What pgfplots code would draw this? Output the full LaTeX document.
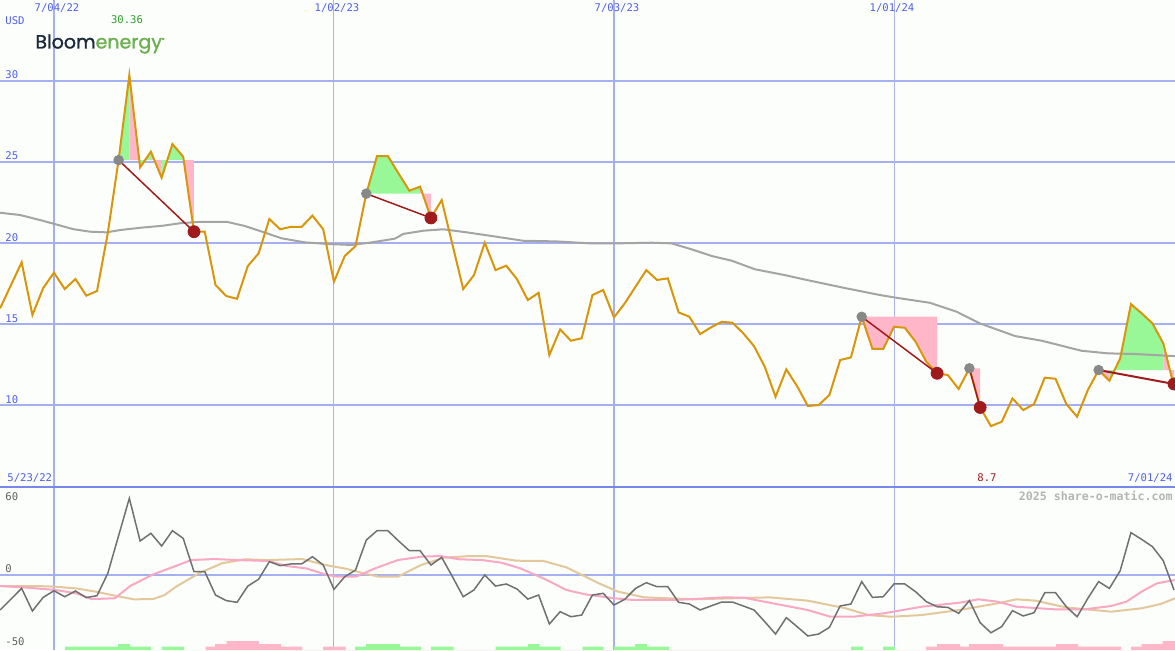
\documentclass[border=0pt]{standalone}
\usepackage{pgfplots}
\pgfplotsset{compat=1.18}
\usepackage{fontspec}
\setmainfont{DejaVu Sans Mono}
\newfontfamily\logofont{Poppins}[FakeBold=1.2]
\definecolor{bg}{HTML}{FCFEFC}
\definecolor{gridb}{HTML}{A4B0F0}
\definecolor{gridt}{HTML}{AAB2E8}
\definecolor{sepb}{HTML}{7888E8}
\definecolor{lbl}{HTML}{5060E8}
\definecolor{pricec}{HTML}{D8960A}
\definecolor{mac}{HTML}{A4A4A4}
\definecolor{fgreen}{HTML}{98F898}
\definecolor{fpink}{HTML}{FFB6C8}
\definecolor{trend}{HTML}{A01C1C}
\definecolor{gdot}{HTML}{888888}
\definecolor{osc}{HTML}{707070}
\definecolor{pinkl}{HTML}{F8A8C4}
\definecolor{tanl}{HTML}{E2C89A}
\definecolor{logonavy}{HTML}{1B2838}
\definecolor{logogreen}{HTML}{6CB050}
\definecolor{maxg}{HTML}{30A030}
\definecolor{wm}{HTML}{B4B4B4}
\definecolor{lbldark}{HTML}{606060}
\newcommand\tickfont{\fontsize{5.3pt}{6pt}\selectfont}
\pgfplotsset{
  base/.style={scale only axis, width=587.5pt, axis line style={draw=none},
    major tick length=0pt, tick style={draw=none}, xticklabels={}, yticklabels={},
    extra x tick labels={}, clip=true, grid=major,
    major grid style={gridb, line width=1pt},
    extra x tick style={xmajorgrids=true, major grid style={gridt, line width=0.5pt}}},
}
\begin{document}
\begin{tikzpicture}
\fill[bg] (0pt,0pt) rectangle (587.5pt,-325pt);
\useasboundingbox (0pt,0pt) rectangle (587.5pt,-325pt);
% ---------------- price panel
\begin{axis}[base, at={(0pt,0pt)}, anchor=north west, height=243.75pt,
  xmin=-5.01, xmax=104.09, ymin=4.91, ymax=35.0,
  xtick={0,52}, extra x ticks={26,78}, ytick={10,15,20,25,30}]
% fills
\addplot[fill=fgreen, draw=none, forget plot] coordinates {(6,25.12) (7,30.36) (7,25.12)};
\addplot[fill=fpink, draw=none, forget plot] coordinates {(7,25.12) (7,30.36) (8,24.67) (8,25.12)};
\addplot[fill=fgreen, draw=none, forget plot] coordinates {(8,25.12) (8,24.67) (9,25.64) (9,25.12)};
\addplot[fill=fpink, draw=none, forget plot] coordinates {(9,25.12) (9,25.64) (10,24.03) (10,25.12)};
\addplot[fill=fgreen, draw=none, forget plot] coordinates {(10,25.12) (10,24.03) (11,26.11) (12,25.33) (12,25.12)};
\addplot[fill=fpink, draw=none, forget plot] coordinates {(12,25.12) (12,25.33) (13,20.70) (13,25.12)};
\addplot[fill=fgreen, draw=none, forget plot] coordinates {(29,23.05) (30,25.37) (31,25.37) (32,24.29) (33,23.23) (34,23.48) (34,23.05)};
\addplot[fill=fpink, draw=none, forget plot] coordinates {(34,23.05) (34,23.48) (35,21.55) (35,23.05)};
\addplot[fill=fpink, draw=none, forget plot] coordinates {(75,15.45) (76,13.46) (77,13.46) (78,14.83) (79,14.77) (80,13.91) (81,12.67) (82,11.96) (82,15.45)};
\addplot[fill=fpink, draw=none, forget plot] coordinates {(85,12.27) (86,9.85) (86,12.27)};
\addplot[fill=fpink, draw=none, forget plot] coordinates {(97,12.16) (98,11.5) (98,12.16)};
\addplot[fill=fgreen, draw=none, forget plot] coordinates {(98,12.16) (98,11.5) (99,12.88) (100,16.23) (101,15.66) (102,15.04) (103,13.81) (103,12.16)};
\addplot[fill=fpink, draw=none, forget plot] coordinates {(103,12.16) (103,13.81) (104,11.13) (104,12.16)};
% moving average
\addplot[mac, line width=1pt] coordinates {
(-5.01,21.87) (-3.16,21.73) (-1.30,21.42) (0.09,21.17) (1.76,20.86) (3.34,20.70) (4.89,20.66)
(6.13,20.80) (7.99,20.94) (10.12,21.07) (11.70,21.22) (13.56,21.31) (16.04,21.31) (17.73,21.05)
(19.59,20.64) (21.14,20.29) (23.31,20.04) (25.47,19.94) (27.64,19.88) (29.50,20.04) (31.66,20.27)
(32.43,20.56) (34.29,20.76) (36.15,20.85) (38.32,20.66) (40.48,20.45) (43.58,20.14) (46.68,20.10)
(49.77,19.98) (52.37,19.98) (55.50,20.02) (57.35,19.98) (59.21,19.61) (61.07,19.20) (62.93,18.91)
(65.09,18.38) (67.87,18.02) (69.89,17.72) (73.60,17.20) (76.69,16.79) (78.24,16.62) (81.34,16.31)
(83.82,15.76) (85.98,15.04) (89.23,14.26) (91.71,13.97) (95.42,13.35) (97.89,13.19) (100.37,13.15) (104.08,13.02)};
% price
\addplot[pricec, line width=1pt] coordinates {
(-5,15.97) (-3,18.81) (-2,15.56) (-1,17.22) (0,18.17) (1,17.16) (2,17.78) (3,16.75) (4,17.04)
(5,20.62) (6,25.12) (7,30.36) (8,24.67) (9,25.64) (10,24.03) (11,26.11) (12,25.33) (13,20.70)
(14,20.70) (15,17.41) (16,16.73) (17,16.56) (18,18.58) (19,19.36) (20,21.48) (21,20.85) (22,21.0)
(23,21.0) (24,21.69) (25,20.85) (26,17.61) (27,19.2) (28,19.81) (29,23.05) (30,25.37) (31,25.37)
(32,24.29) (33,23.23) (34,23.48) (35,21.55) (36,22.65) (38,17.16) (39,18.02) (40,20.02) (41,18.33)
(42,18.60) (43,17.76) (44,16.48) (45,16.93) (46,13.09) (47,14.67) (48,13.97) (49,14.12) (50,16.79)
(51,17.10) (52,15.41) (53,16.28) (55,18.33) (56,17.72) (57,17.82) (58,15.72) (59,15.45) (60,14.38)
(61,14.79) (62,15.14) (63,15.08) (64,14.43) (65,13.64) (66,12.36) (67,10.51) (68,12.2) (69,11.17)
(70,9.94) (71,10.0) (72,10.62) (73,12.78) (74,12.94) (75,15.45) (76,13.46) (77,13.46) (78,14.83)
(79,14.77) (80,13.91) (81,12.67) (82,11.96) (83,11.85) (84,10.99) (85,12.27) (86,9.85) (87,8.7)
(88,8.97) (89,10.41) (90,9.69) (91,10.06) (92,11.69) (93,11.62) (94,10.06) (95,9.28) (96,10.93)
(97,12.16) (98,11.5) (99,12.88) (100,16.23) (101,15.66) (102,15.04) (103,13.81) (104,11.13)};
% trend lines
\addplot[trend, line width=0.75pt] coordinates {(6,25.12) (13,20.70)};
\addplot[trend, line width=0.75pt] coordinates {(29,23.05) (35,21.55)};
\addplot[trend, line width=0.75pt] coordinates {(75,15.45) (82,11.96)};
\addplot[trend, line width=0.75pt] coordinates {(85,12.27) (86,9.85)};
\addplot[trend, line width=1pt] coordinates {(97,12.16) (104,11.3)};
\addplot[only marks, mark=*, mark size=2.4pt, mark options={fill=gdot, draw=gdot}] coordinates {(6,25.12) (29,23.05) (75,15.45) (85,12.27) (97,12.16)};
\addplot[only marks, mark=*, mark size=3pt, mark options={fill=trend, draw=trend}] coordinates {(13,20.70) (35,21.55) (82,11.96) (86,9.85) (104,11.3)};
\end{axis}
% ---------------- oscillator panel
\begin{axis}[base, at={(0pt,-243.75pt)}, anchor=north west, height=81.25pt,
  xmin=-5.01, xmax=104.09, ymin=-57.69, ymax=67.31,
  xtick={0,52}, extra x ticks={26,78}, ytick={0}]
\addplot[tanl, line width=1pt] coordinates {
(-5.01,-8.5) (-1.46,-8.5) (0.14,-9.0) (2.09,-10.3) (3.87,-12.8) (5.65,-15.9) (7.42,-18.7) (9.20,-18.5)
(10.27,-15.4) (11.33,-9.0) (13.46,1.3) (15.60,9.0) (17.73,12.1) (19.86,11.5) (23.05,12.3) (25.19,7.7)
(26.96,5.1) (28.75,1.3) (30.17,-1.3) (31.94,-1.3) (34.08,7.7) (36.20,13.3) (38.69,14.6) (40.11,14.6)
(42.95,11.0) (45.44,10.8) (47.58,5.9) (49.35,-1.3) (50.60,-6.4) (52.37,-12.8) (54.83,-17.2)
(59.41,-18.7) (62.93,-17.9) (66.46,-17.2) (69.98,-19.7) (73.51,-25.6) (75.62,-30.8) (77.73,-32.1)
(80.56,-30.8) (84.08,-26.9) (87.60,-21.8) (89.36,-18.7) (91.12,-19.7) (93.95,-24.9) (98.17,-28.2)
(100.99,-25.6) (102.76,-22.3) (104.09,-17.9)};
\addplot[pinkl, line width=1pt] coordinates {
(-5.01,-8.5) (-2.88,-9.5) (0.14,-11.5) (2.09,-14.1) (3.51,-18.5) (5.65,-17.9) (7.07,-8.5) (9.20,0.5)
(10.97,5.9) (12.76,11.5) (14.88,12.3) (17.02,11.5) (19.86,10.8) (21.63,6.9) (23.42,5.1) (25.19,0.5)
(26.26,-1.3) (28.03,-1.3) (29.81,5.1) (31.94,11.5) (34.08,14.1) (35.85,14.6) (37.62,12.1) (39.76,11.5)
(41.53,9.5) (43.31,5.1) (45.44,-2.6) (47.58,-11.5) (49.35,-14.9) (52.02,-17.9) (53.77,-19.2)
(57.65,-19.2) (62.23,-17.2) (63.99,-17.4) (66.46,-21.3) (69.98,-26.9) (72.10,-32.1) (74.21,-32.1)
(77.03,-29.5) (80.56,-24.4) (84.08,-21.3) (85.84,-18.7) (87.60,-20.5) (89.36,-24.4) (92.89,-26.4)
(95.70,-26.4) (98.17,-23.8) (99.58,-20.5) (100.99,-12.8) (102.41,-6.4) (104.09,-3.8)};
\addplot[osc, line width=0.75pt] coordinates {
(-5,-26.9) (-3,-10.3) (-2,-27.7) (-1,-17.2) (0,-12.1) (1,-16.7) (2,-12.3) (3,-17.4) (4,-15.9) (5,1.3)
(7,59.0) (8,26.2) (9,32.1) (10,22.3) (11,34.1) (12,28.2) (13,2.6) (14,2.6) (15,-15.4) (16,-19.7)
(17,-21.0) (18,-8.5) (19,-3.3) (20,10.3) (21,7.2) (22,8.5) (23,8.5) (24,14.1) (25,7.7) (26,-11.0)
(27,-1.3) (28,3.8) (29,26.9) (30,34.1) (31,34.1) (32,26.2) (33,18.7) (34,18.7) (35,7.7) (36,13.6)
(37,-1.3) (38,-16.7) (39,-11.5) (40,0) (41,-8.5) (42,-6.9) (43,-10.8) (44,-18.5) (45,-15.4) (46,-37.7)
(47,-28.2) (48,-32.1) (49,-30.8) (50,-15.4) (51,-14.1) (52,-23.1) (53,-18.7) (54,-10.3) (55,-5.9)
(56,-9.0) (57,-9.0) (58,-21.0) (59,-22.3) (60,-26.9) (61,-23.8) (62,-20.8) (63,-20.8) (64,-23.8)
(65,-26.9) (66,-35.9) (67,-45.4) (68,-32.8) (69,-39.7) (70,-46.9) (71,-45.4) (72,-40.3) (73,-23.8)
(74,-22.3) (75,-5.1) (76,-17.2) (77,-16.7) (78,-6.9) (79,-6.9) (80,-12.8) (81,-20.5) (82,-24.4)
(83,-24.9) (84,-29.5) (85,-19.7) (86,-36.7) (87,-44.4) (88,-39.7) (89,-27.4) (90,-31.5) (91,-29.0)
(92,-13.6) (93,-13.6) (94,-24.4) (95,-32.1) (96,-17.9) (97,-5.1) (98,-10.3) (99,3.3) (100,32.6)
(101,27.4) (102,21.8) (103,11.0) (104,-11.5)};
\end{axis}
% ---------------- bars strip
\begin{axis}[scale only axis, hide axis, at={(0pt,-325pt)}, anchor=south west,
  width=587.5pt, height=5pt, xmin=0, xmax=1175, ymin=0, ymax=10, clip=true]
\addplot[ybar interval, fill=fgreen, draw=none] coordinates {
(65,3.3) (118,6) (130,3.3) (151,0) (162,3.3) (184,0) (355,3.3) (366,6) (400,3.3) (421,0)
(431,3.3) (453.5,0) (495.6,3.3) (528,6) (539.6,3.3) (560.6,0) (582.5,3.3) (603.5,0) (614,3.3)
(635,6) (647,3.3) (669,0) (851,3.3) (863,0) (883,3.3) (895,0) (900,0)};
\addplot[ybar interval, fill=fpink, draw=none] coordinates {
(205.5,3.3) (215,6) (226.6,9) (259,6) (281,3.3) (302,0) (323,3.3) (345.6,0) (926,3.3) (937,6)
(960,3.3) (969,6) (1003,3.3) (1056,6) (1078,3.3) (1121,0) (1131,3.3) (1141.7,6) (1162.5,9) (1175,0)};
\end{axis}
% ---------------- labels
\begin{scope}[x=0.5pt,y=-0.5pt]
\draw[sepb, line width=1.2pt] (0,487) -- (1175,487);
\tikzset{lb/.style={inner sep=0pt, font=\tickfont}}
\node[lb, anchor=west, text=lbl] at (5,75) {30};
\node[lb, anchor=west, text=lbl] at (5,156) {25};
\node[lb, anchor=west, text=lbl] at (5,238) {20};
\node[lb, anchor=west, text=lbl] at (5,319) {15};
\node[lb, anchor=west, text=lbl] at (5,400) {10};
\node[lb, anchor=west, text=lbl] at (5,21) {USD};
\node[lb, text=lbl] at (57,8) {7/04/22};
\node[lb, text=lbl] at (337,8) {1/02/23};
\node[lb, text=lbl] at (617,8) {7/03/23};
\node[lb, text=lbl] at (892,8) {1/01/24};
\node[lb, text=maxg] at (127,20) {30.36};
\node[lb, text=trend] at (987,478) {8.7};
\node[lb, anchor=west, text=lbl] at (7,478) {5/23/22};
\node[lb, anchor=east, text=lbl] at (1173,478) {7/01/24};
\node[inner sep=0pt, anchor=east, text=wm, font=\fontsize{5.8pt}{6pt}\selectfont\bfseries] at (1173,496) {2025 share-o-matic.com};
\node[lb, anchor=west, text=lbldark] at (5,497) {60};
\node[lb, anchor=west, text=lbldark] at (5,569) {0};
\node[lb, anchor=west, text=lbldark] at (5,642) {-50};
\node[inner sep=0pt, anchor=west] at (35,44) {\logofont\fontsize{9.5pt}{10pt}\selectfont\textcolor{logonavy}{Bloom}\textcolor{logogreen}{energy\raisebox{3.5pt}{\fontsize{2.5pt}{3pt}\selectfont ®}}};
\end{scope}
\end{tikzpicture}
\end{document}
